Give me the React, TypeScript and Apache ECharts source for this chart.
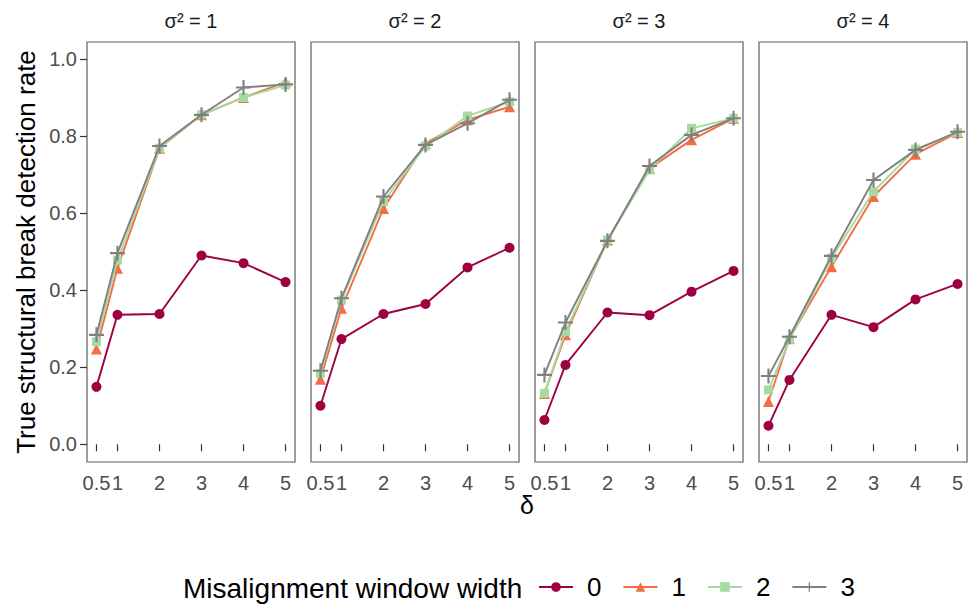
import React, { useEffect, useRef } from "react";
import * as echarts from "echarts";

const deltas = [0.5, 1, 2, 3, 4, 5];
const deltaTickLabels = ["0.5", "1", "2", "3", "4", "5"];
const yTicks = [0, 0.2, 0.4, 0.6, 0.8, 1.0];
const panelTitles = ["σ² = 1", "σ² = 2", "σ² = 3", "σ² = 4"];
const widthNames = ["0", "1", "2", "3"];

// sigma^2 = 1
const s1w0 = [0.149, 0.336, 0.338, 0.49, 0.47, 0.421];
const s1w1 = [0.247, 0.457, 0.768, 0.855, 0.9, 0.94];
const s1w2 = [0.266, 0.478, 0.768, 0.855, 0.9, 0.932];
const s1w3 = [0.284, 0.496, 0.774, 0.855, 0.926, 0.934];
// sigma^2 = 2
const s2w0 = [0.1, 0.273, 0.338, 0.364, 0.459, 0.51];
const s2w1 = [0.169, 0.353, 0.612, 0.781, 0.842, 0.876];
const s2w2 = [0.184, 0.374, 0.63, 0.774, 0.852, 0.889];
const s2w3 = [0.191, 0.379, 0.643, 0.777, 0.833, 0.894];
// sigma^2 = 3
const s3w0 = [0.063, 0.206, 0.342, 0.335, 0.396, 0.45];
const s3w1 = [0.132, 0.284, 0.53, 0.716, 0.79, 0.846];
const s3w2 = [0.132, 0.292, 0.53, 0.712, 0.82, 0.846];
const s3w3 = [0.18, 0.316, 0.528, 0.722, 0.803, 0.846];
// sigma^2 = 4
const s4w0 = [0.048, 0.167, 0.336, 0.304, 0.376, 0.416];
const s4w1 = [0.111, 0.275, 0.461, 0.643, 0.753, 0.809];
const s4w2 = [0.141, 0.271, 0.483, 0.656, 0.766, 0.809];
const s4w3 = [0.177, 0.279, 0.489, 0.686, 0.764, 0.811];

const panels = [
  [s1w0, s1w1, s1w2, s1w3],
  [s2w0, s2w1, s2w2, s2w3],
  [s3w0, s3w1, s3w2, s3w3],
  [s4w0, s4w1, s4w2, s4w3],
];

const colors = ["#9E0142", "#F46D43", "#A6DBA0", "#808080"];
const PLUS = "path://M4.3,0 H5.7 V4.3 H10 V5.7 H5.7 V10 H4.3 V5.7 H0 V4.3 H4.3 Z";
const symbols = ["circle", "triangle", "rect", PLUS];
const symbolSizes = [10, 11, 9, 15];

const FONT = "Liberation Sans, Arial, sans-serif";

export default function App() {
  const ref = useRef<HTMLDivElement>(null);
  useEffect(() => {
    if (!ref.current) return;
    const chart = echarts.init(ref.current, null, { renderer: "svg" });
    const lefts = [87, 311, 535, 759];
    const pw = 208;
    const top = 42;
    const ph = 420;
    const grids = lefts.map((l) => ({
      left: l,
      top,
      width: pw,
      height: ph,
      show: true,
      borderColor: "#5e5e5e",
      borderWidth: 1.2,
      backgroundColor: "transparent",
    }));
    const xAxes = lefts.map((_, i) => ({
      type: "value",
      gridIndex: i,
      min: 0.275,
      max: 5.225,
      splitLine: { show: false },
      axisLine: { show: false },
      axisTick: {
        show: true,
        length: 7,
        customValues: deltas,
        lineStyle: { color: "#333", width: 1.2 },
      },
      axisLabel: {
        show: true,
        customValues: deltas,
        margin: 11,
        color: "#4D4D4D",
        fontSize: 20,
        fontFamily: FONT,
        formatter: (v: number) => deltaTickLabels[deltas.indexOf(v)] ?? String(v),
      },
    }));
    const yAxes = lefts.map((_, i) => ({
      type: "value",
      gridIndex: i,
      min: -0.046,
      max: 1.044,
      splitLine: { show: false },
      axisLine: { show: false },
      axisTick: {
        show: i === 0,
        length: 7,
        customValues: yTicks,
        lineStyle: { color: "#333", width: 1.2 },
      },
      axisLabel: {
        show: i === 0,
        customValues: yTicks,
        margin: 10,
        color: "#4D4D4D",
        fontSize: 20,
        fontFamily: FONT,
        formatter: (v: number) => v.toFixed(1),
      },
    }));
    const series: any[] = [];
    panels.forEach((panel, p) => {
      panel.forEach((vals, w) => {
        series.push({
          type: "line",
          name: widthNames[w],
          xAxisIndex: p,
          yAxisIndex: p,
          data: deltas.map((d, k) => [d, vals[k]]),
          symbol: symbols[w],
          symbolSize: symbolSizes[w],
          showSymbol: true,
          lineStyle: { color: colors[w], width: 1.9 },
          itemStyle: { color: colors[w] },
          z: 2 + w,
          silent: true,
        });
      });
    });
    const graphics: any[] = [];
    lefts.forEach((l, i) => {
      graphics.push({
        type: "text",
        x: l + pw / 2,
        y: 21,
        style: {
          text: panelTitles[i],
          fontSize: 20,
          fontFamily: FONT,
          fill: "#1a1a1a",
          align: "center",
          verticalAlign: "middle",
        },
      });
    });
    graphics.push({
      type: "text",
      x: 26,
      y: top + ph / 2,
      rotation: Math.PI / 2,
      style: {
        text: "True structural break detection rate",
        fontSize: 26,
        fontFamily: FONT,
        fill: "#000",
        align: "center",
        verticalAlign: "middle",
      },
    });
    graphics.push({
      type: "text",
      x: 527,
      y: 505,
      style: {
        text: "δ",
        fontSize: 25,
        fontFamily: FONT,
        fill: "#000",
        align: "center",
        verticalAlign: "middle",
      },
    });
    graphics.push({
      type: "text",
      x: 183,
      y: 588,
      style: {
        text: "Misalignment window width",
        fontSize: 28,
        fontFamily: FONT,
        fill: "#000",
        align: "left",
        verticalAlign: "middle",
      },
    });
    chart.setOption({
      animation: false,
      backgroundColor: "#ffffff",
      grid: grids,
      xAxis: xAxes,
      yAxis: yAxes,
      series,
      legend: {
        data: widthNames,
        left: 538,
        top: 574,
        padding: 0,
        orient: "horizontal",
        itemWidth: 34,
        itemHeight: 12,
        itemGap: 21,
        selectedMode: false,
        textStyle: {
          fontSize: 26,
          fontFamily: FONT,
          color: "#000",
          padding: [0, 0, 0, 9],
        },
      },
      graphic: graphics,
    });
    return () => chart.dispose();
  }, []);
  return (
    <div
      ref={ref}
      style={{ position: "fixed", left: 0, top: 0, width: 968, height: 607 }}
    />
  );
}
